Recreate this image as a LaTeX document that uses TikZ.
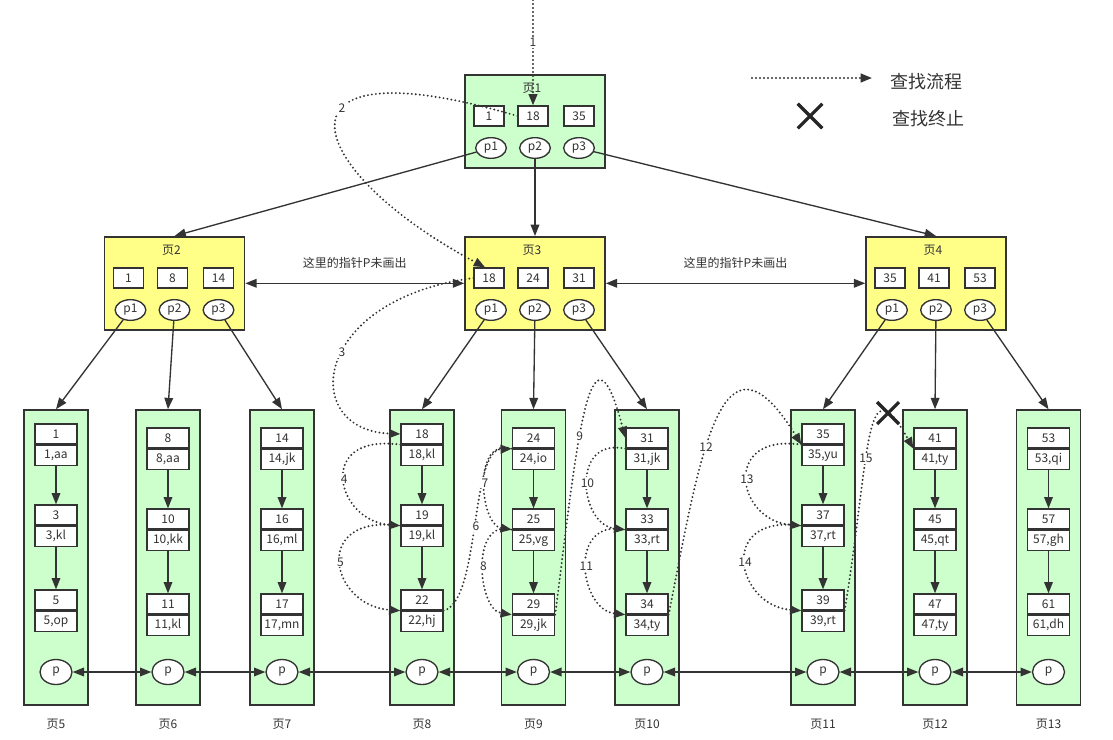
\documentclass[tikz,border=0pt]{standalone}
\usepackage{fontspec}
\setmainfont{Noto Sans CJK SC}
\usepackage{xcolor}
\usetikzlibrary{positioning,arrows.meta,shapes.geometric,shapes.misc}

\definecolor{leafgreen}{HTML}{CCFFCC}
\definecolor{pageyellow}{HTML}{FFFF88}
\definecolor{linegray}{HTML}{333333}

\begin{document}
\begin{tikzpicture}[
    x=0.75pt, y=-0.75pt,
    font=\fontsize{9}{11}\selectfont, text=linegray,
    page/.style={
        rectangle, draw=linegray, line width=1.2pt,
        minimum width=105pt, minimum height=69.75pt, fill=pageyellow
    },
    leafpage/.style={page, minimum width=48pt, minimum height=221.25pt, fill=leafgreen},
    keybox/.style={
        rectangle, draw=linegray, line width=1pt, fill=white,
        minimum width=22.5pt, minimum height=15pt, inner sep=0pt
    },
    recbox/.style={keybox, minimum width=31.5pt},
    ptr/.style={
        ellipse, draw=linegray, line width=1pt, fill=white,
        minimum width=23pt, minimum height=15.5pt, inner sep=0pt
    },
    leafptr/.style={ptr, minimum width=24pt, minimum height=18.75pt},
    arrow/.style={-{Triangle[length=8.5pt,width=6.5pt]}, line width=1pt, draw=linegray},
    biarrow/.style={arrow, {Triangle[length=8.5pt,width=6.5pt]}-{Triangle[length=8.5pt,width=6.5pt]}},
    search/.style={
        -{Triangle[length=8.5pt,width=6.5pt]}, line width=1.6pt, draw=linegray,
        line cap=round, dash pattern=on 0pt off 3pt
    },
    stepnum/.style={fill=white, inner sep=1pt},
    stopmark/.style={cross out, draw=black!85, line width=2.4pt, minimum size=14pt, inner sep=0pt},
    legend/.style={font=\fontsize{13.5}{16}\selectfont, text=black!80}
]
\useasboundingbox (0,0) rectangle (1113,739);

% index pages
\foreach \n/\x/\y/\ka/\kb/\kc/\fc in {1/535/74/1/18/35/leafgreen, 2/174.5/236/1/8/14/pageyellow,
        3/535/236/18/24/31/pageyellow, 4/936/236/35/41/53/pageyellow}{
    \node[page, fill=\fc, anchor=north] (pg\n) at (\x,\y) {};
    \node (title\n) at (\x-3,\y+14) {页\n};
    \node[keybox] (key\n-a) at (\x-46,\y+42) {\ka};
    \node[keybox] (key\n-b) at (\x-2,\y+42) {\kb};
    \node[keybox] (key\n-c) at (\x+44,\y+42) {\kc};
    \node[ptr] (ptr\n-1) at (\x-44,\y+74) {p1};
    \node[ptr] (ptr\n-2) at (\x,\y+74) {p2};
    \node[ptr] (ptr\n-3) at (\x+44,\y+74) {p3};
}

% leaf pages
\foreach \n/\x/\dy/\ka/\va/\kb/\vb/\kc/\vc in {5/56/0/1/aa/3/kl/5/op, 6/168/4/8/aa/10/kk/11/kl,
        7/282/4/14/jk/16/ml/17/mn, 8/422/0/18/kl/19/kl/22/hj, 9/533.5/4/24/io/25/vg/29/jk,
        10/647/4/31/jk/33/rt/34/ty, 11/823/0/35/yu/37/rt/39/rt, 12/935/4/41/ty/45/qt/47/ty,
        13/1048.5/4/53/qi/57/gh/61/dh}{
    \node[leafpage] (pg\n) at (\x,557.5) {};
    \node[recbox] (k\ka) at (\x,434+\dy) {\ka};
    \node[recbox, below=0pt of k\ka] (v\ka) {\ka,\va};
    \node[recbox] (k\kb) at (\x,515+\dy) {\kb};
    \node[recbox, below=0pt of k\kb] (v\kb) {\kb,\vb};
    \node[recbox] (k\kc) at (\x,600+\dy) {\kc};
    \node[recbox, below=0pt of k\kc] (v\kc) {\kc,\vc};
    \draw[arrow] (v\ka) -- (k\kb);
    \draw[arrow] (v\kb) -- (k\kc);
    \node[leafptr] (lp\n) at (\x,672) {p};
    \node (cap\n) at (\x,724) {页\n};
}

\draw[arrow] (ptr1-1) -- (pg2.north);
\draw[arrow] (ptr1-2) -- (pg3.north);
\draw[arrow] (ptr1-3) -- (pg4.north);
\draw[arrow] (ptr2-1) -- (pg5.north);
\draw[arrow] (ptr2-2) -- (pg6.north);
\draw[arrow] (ptr2-3) -- (pg7.north);
\draw[arrow] (ptr3-1) -- (pg8.north);
\draw[arrow] (ptr3-2) -- (pg9.north);
\draw[arrow] (ptr3-3) -- (pg10.north);
\draw[arrow] (ptr4-1) -- (pg11.north);
\draw[arrow] (ptr4-2) -- (pg12.north);
\draw[arrow] (ptr4-3) -- (pg13.north);

\draw[biarrow] (pg2) -- node[above=7pt] {这里的指针P未画出} (pg3);
\draw[biarrow] (pg3) -- node[above=7pt] {这里的指针P未画出} (pg4);
\foreach \a/\b in {5/6,6/7,7/8,8/9,9/10,10/11,11/12,12/13}
    \draw[biarrow] (lp\a) -- (lp\b);

% search path
\coordinate (entry) at (533,0);
\draw[search] (entry) -- (key1-b.north) node[stepnum, pos=0.4] {1};
\draw[search] (key1-b.west) .. controls +(-257,-76) and +(-184,-98) .. (key3-a.110) node[stepnum, pos=0.4] {2};
\draw[search] (key3-a.west) .. controls +(-163,22) and +(-101,-4) .. (k18.west) node[stepnum, pos=0.45] {3};
\draw[search] (k18.south west) .. controls +(-85,-12) and +(-65,-5) .. (k19.south west) node[stepnum, pos=0.5] {4};
\draw[search] (k19.south west) .. controls +(-90,-12) and +(-70,-5) .. (k22.south west) node[stepnum, pos=0.5] {5};
\draw[search] (k22.south east) .. controls +(37,-10) and +(-42,2) .. (k24.south west) node[stepnum, pos=0.5] {6};
\draw[search] (k24.south west) .. controls +(-40,-12) and +(-32,-5) .. (k25.south west) node[stepnum, pos=0.5] {7};
\draw[search] (k25.south west) .. controls +(-42,-12) and +(-34,-5) .. (k29.south west) node[stepnum, pos=0.5] {8};
\draw[search] (k29.south east) .. controls +(21,-163) and +(-36,-138) .. (k31.west) node[stepnum, pos=0.42] {9};
\draw[search] (k31.south west) .. controls +(-55,-12) and +(-46,-5) .. (k33.south west) node[stepnum, pos=0.5] {10};
\draw[search] (k33.south west) .. controls +(-58,-12) and +(-46,-5) .. (k34.south west) node[stepnum, pos=0.5] {11};
\draw[search] (k34.south east) .. controls +(32,-163) and +(-80,-130) .. (k35.south west) node[stepnum, pos=0.4] {12};
\draw[search] (k35.south west) .. controls +(-80,-12) and +(-65,-5) .. (k37.south west) node[stepnum, pos=0.5] {13};
\draw[search] (k37.south west) .. controls +(-85,-12) and +(-65,-5) .. (k39.south west) node[stepnum, pos=0.5] {14};
\draw[search] (k39.south east) .. controls +(26,-161) and +(-49,-88) .. (k41.south west) node[stepnum, pos=0.4] {15};
\node[stopmark] (stop) at (888,413) {};

% legend
\coordinate (lgstart) at (752,78);
\coordinate (lgend) at (872,78);
\draw[search] (lgstart) -- (lgend);
\node[legend] (lgflow) at (926,82) {查找流程};
\node[stopmark, minimum size=16pt] (lgstop) at (810,116) {};
\node[legend] (lgstopt) at (928,119) {查找终止};
\end{tikzpicture}
\end{document}
